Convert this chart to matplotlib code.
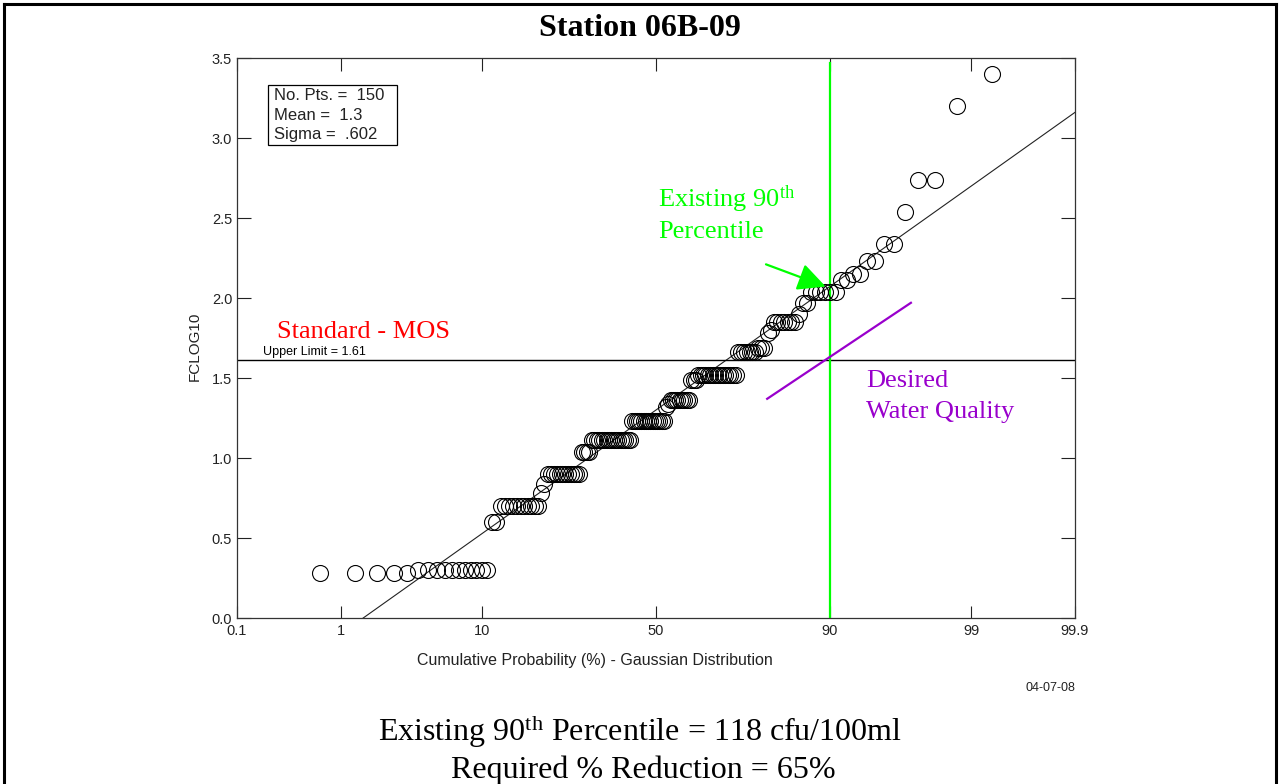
import numpy as np
import matplotlib
matplotlib.use("Agg")
import matplotlib.pyplot as plt
from matplotlib.lines import Line2D
from matplotlib.patches import Rectangle
from statistics import NormalDist

W, H = 1279, 784

# Sorted FC log10 results (distinct levels and how many samples sit at each)
fc_levels = [0.28, 0.30, 0.60, 0.70, 0.78, 0.84, 0.90, 1.04, 1.11, 1.23,
             1.32, 1.34, 1.36, 1.49, 1.52, 1.66, 1.69, 1.78, 1.80, 1.85,
             1.90, 1.97, 2.04, 2.11, 2.15, 2.23, 2.34, 2.54, 2.74, 3.20, 3.40]
fc_counts = [5, 11, 2, 11, 1, 1, 12, 4, 17, 15,
             1, 1, 9, 3, 16, 7, 3, 1, 1, 7,
             1, 2, 6, 2, 2, 2, 2, 1, 2, 1, 1]

n_pts = 150
mean_log = 1.3
sigma_log = 0.602
upper_limit = 1.61
existing_pct = 90

pct_ticks = [0.1, 1, 10, 50, 90, 99, 99.9]
pct_labels = ["0.1", "1", "10", "50", "90", "99", "99.9"]
y_ticks = [0.0, 0.5, 1.0, 1.5, 2.0, 2.5, 3.0, 3.5]

# hand-drawn target line for the desired water quality (z, log10)
desired_z = [0.82, 1.88]
desired_y = [1.37, 1.97]

plt.rcParams["mathtext.fontset"] = "custom"
plt.rcParams["mathtext.rm"] = "Liberation Serif"
plt.rcParams["mathtext.it"] = "Liberation Serif:italic"
plt.rcParams["mathtext.bf"] = "Liberation Serif:bold"

nd = NormalDist()
values = np.repeat(fc_levels, fc_counts)
ranks = np.arange(1, len(values) + 1)
z_pts = np.array([nd.inv_cdf(r / (len(values) + 1)) for r in ranks])
z_ticks = [nd.inv_cdf(p / 100.0) for p in pct_ticks]
z90 = nd.inv_cdf(existing_pct / 100.0)

fig = plt.figure(figsize=(W / 100, H / 100), dpi=100)


def fx(px):
    return px / W


def fy(py):
    return 1 - py / H


ax = fig.add_axes([fx(237), fy(618), fx(1075) - fx(237), fy(58) - fy(618)])
ax.set_xlim(z_ticks[0], z_ticks[-1])
ax.set_ylim(0, 3.5)

# fitted normal line
zl = np.array([z_ticks[0], z_ticks[-1]])
ax.plot(zl, mean_log + sigma_log * zl, color="#222222", lw=0.8, zorder=2)

# upper limit
ax.axhline(upper_limit, color="black", lw=1.0, zorder=2)

# existing 90th percentile
ax.plot([z90, z90], [0, 3.47], color="#00FF00", lw=1.6, zorder=3)

# data points
ax.plot(z_pts, values, "o", mfc="none", mec="black", ms=11.5, mew=0.8, zorder=4)

# desired water quality line
ax.plot(desired_z, desired_y, color="#9900CC", lw=1.6, zorder=3)

# arrow to the 90th percentile on the fitted line
ax.annotate("", xy=(z90 - 0.03, mean_log + sigma_log * z90),
            xytext=(-43, 16), textcoords="offset points",
            arrowprops=dict(arrowstyle="-|>,head_length=0.85,head_width=0.42",
                            mutation_scale=20, color="#00FF00", lw=1.6,
                            shrinkA=0, shrinkB=0), zorder=5)

ax.set_xticks(z_ticks)
ax.set_xticklabels(pct_labels)
ax.set_yticks(y_ticks)
ax.set_yticklabels([f"{v:.1f}" for v in y_ticks])
ax.tick_params(axis="both", direction="in", top=True, right=True, width=0.8,
               colors="#222222", labelsize=10.5, labelfontfamily="Liberation Sans")
ax.tick_params(axis="y", length=10, pad=3.5)
ax.tick_params(axis="x", length=9, pad=4)
for sp in ax.spines.values():
    sp.set_linewidth(0.9)
    sp.set_color("#333333")

sans = "Liberation Sans"
serif = "Liberation Serif"

# stats box
ax.add_artist(Rectangle((fx(268), fy(145)), fx(397) - fx(268), fy(85) - fy(145),
                        transform=fig.transFigure, fill=False, ec="black", lw=0.9))
for txt, py in [("No. Pts. =  150", 96), ("Mean =  1.3", 115), ("Sigma =  .602", 134)]:
    fig.text(fx(274), fy(py), txt, family=sans, fontsize=12, ha="left", va="center",
             color="#222222")

fig.text(fx(263), fy(352), "Upper Limit = 1.61", family=sans, fontsize=9,
         ha="left", va="center", color="black")

fig.text(fx(277), fy(338), "Standard - MOS", family=serif, fontsize=19,
         color="#FF0000", ha="left", va="baseline")
fig.text(fx(658), fy(207), r"Existing 90$^{\mathrm{th}}$", family=serif, fontsize=19,
         color="#00FF00", ha="left", va="baseline")
fig.text(fx(658), fy(238), "Percentile", family=serif, fontsize=19,
         color="#00FF00", ha="left", va="baseline")
fig.text(fx(866), fy(387), "Desired", family=serif, fontsize=19,
         color="#9900CC", ha="left", va="baseline")
fig.text(fx(866), fy(418), "Water Quality", family=serif, fontsize=19,
         color="#9900CC", ha="left", va="baseline")

fig.text(fx(640), fy(36), "Station 06B-09", family=serif, fontsize=23,
         fontweight="bold", ha="center", va="baseline")

fig.text(fx(195), fy(346), "FCLOG10", family=sans, fontsize=11, rotation=90,
         ha="center", va="center", color="#222222")
fig.text(fx(595), fy(661), "Cumulative Probability (%) - Gaussian Distribution",
         family=sans, fontsize=11.5, ha="center", va="center", color="#222222")
fig.text(fx(1075), fy(688), "04-07-08", family=sans, fontsize=9, ha="right",
         va="center", color="#222222")

fig.text(fx(640), fy(741), r"Existing 90$^{\mathrm{th}}$ Percentile = 118 cfu/100ml",
         family=serif, fontsize=23, ha="center", va="baseline")
fig.text(fx(643), fy(778), "Required % Reduction = 65%", family=serif, fontsize=23,
         ha="center", va="baseline")

# page frame
for (x0, y0, x1, y1) in [(4, 4, 1276, 4), (4, 4, 4, 790), (1276, 4, 1276, 790)]:
    fig.add_artist(Line2D([fx(x0), fx(x1)], [fy(y0), fy(y1)], color="black", lw=2.2,
                          transform=fig.transFigure))

fig.savefig("out.png", dpi=100)
